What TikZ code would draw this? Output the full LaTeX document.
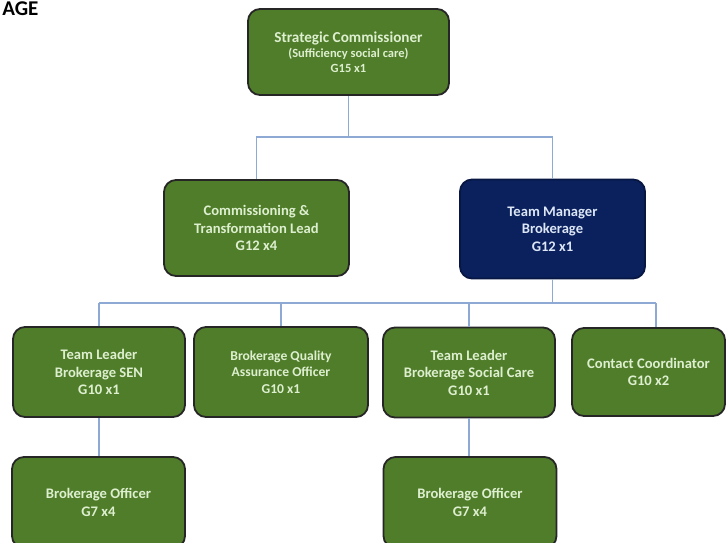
\documentclass[tikz,border=0pt]{standalone}
\usepackage{fontspec}
\setmainfont{Carlito}
\definecolor{gfill}{HTML}{507D2A}
\definecolor{nfill}{HTML}{0A215E}
\definecolor{gtext}{HTML}{DDEFCF}
\definecolor{ntext}{HTML}{DCE6F5}
\definecolor{bord}{HTML}{262626}
\definecolor{linec}{HTML}{8EA9D4}
\tikzset{
  orgbox/.style={draw=bord, line width=1.8pt, rounded corners=12pt, inner sep=0pt, align=center,
    font=\bfseries\fontsize{14.6}{17.5}\selectfont},
  gbox/.style={orgbox, fill=gfill, text=gtext},
  nbox/.style={orgbox, fill=nfill, draw=nfill!70!black, text=ntext},
  conn/.style={draw=linec, line width=1.2pt},
}
\begin{document}
\begin{tikzpicture}[x=1pt,y=-1pt]
\clip (0,0) rectangle (728,542);
\fill[white] (0,0) rectangle (728,542);
\node[anchor=base east, font=\bfseries\fontsize{21}{24}\selectfont, text=black] (ttl) at (42,15) {AGE};
% top
\node[gbox, minimum width=201pt, minimum height=86pt, font=\bfseries\fontsize{12.5}{15}\selectfont] (sc) at (348.5,52)
  {{\fontsize{15.2}{15}\selectfont Strategic Commissioner}\\(Sufficiency social care)\\G15 x1};
% row 2
\node[gbox, minimum width=185pt, minimum height=96pt] (cl) at (256.5,228)
  {Commissioning \&\\Transformation Lead\\G12 x4};
\node[nbox, minimum width=185pt, minimum height=99pt] (tm) at (552.5,229)
  {Team Manager\\Brokerage\\G12 x1};
% row 3
\node[gbox, minimum width=172pt, minimum height=90pt] (t1) at (99,372)
  {Team Leader\\Brokerage SEN\\G10 x1};
\node[gbox, minimum width=174pt, minimum height=90pt, font=\bfseries\fontsize{13.6}{16.5}\selectfont] (qa) at (281,372)
  {Brokerage Quality\\Assurance Officer\\G10 x1};
\node[gbox, minimum width=172pt, minimum height=90pt] (t2) at (469,372.5)
  {Team Leader\\Brokerage Social Care\\G10 x1};
\node[gbox, minimum width=153pt, minimum height=88pt] (cc) at (648.5,372)
  {Contact Coordinator\\G10 x2};
% row 4
\node[gbox, minimum width=173pt, minimum height=91pt] (b1) at (98.5,502.5)
  {Brokerage Officer\\G7 x4};
\node[gbox, minimum width=173pt, minimum height=91pt] (b2) at (470,502.5)
  {Brokerage Officer\\G7 x4};
% connectors
\coordinate (j1) at (348.5,137);
\draw[conn] (sc.south) -- (j1);
\draw[conn] (cl.north) -- (cl.north |- j1) -- (tm.north |- j1) -- (tm.north);
\coordinate (j2) at (553,303);
\coordinate (c4) at (656,303);
\draw[conn] (tm.south) -- (tm.south |- j2);
\draw[conn] (t1.north |- j2) -- (c4);
\draw[conn] (t1.north |- j2) -- (t1.north);
\draw[conn] (qa.north |- j2) -- (qa.north);
\draw[conn] (t2.north |- j2) -- (t2.north);
\draw[conn] (c4) -- (c4 |- cc.north);
\draw[conn] (t1.south) -- (t1.south |- b1.north);
\draw[conn] (t2.south) -- (t2.south |- b2.north);
\end{tikzpicture}
\end{document}
